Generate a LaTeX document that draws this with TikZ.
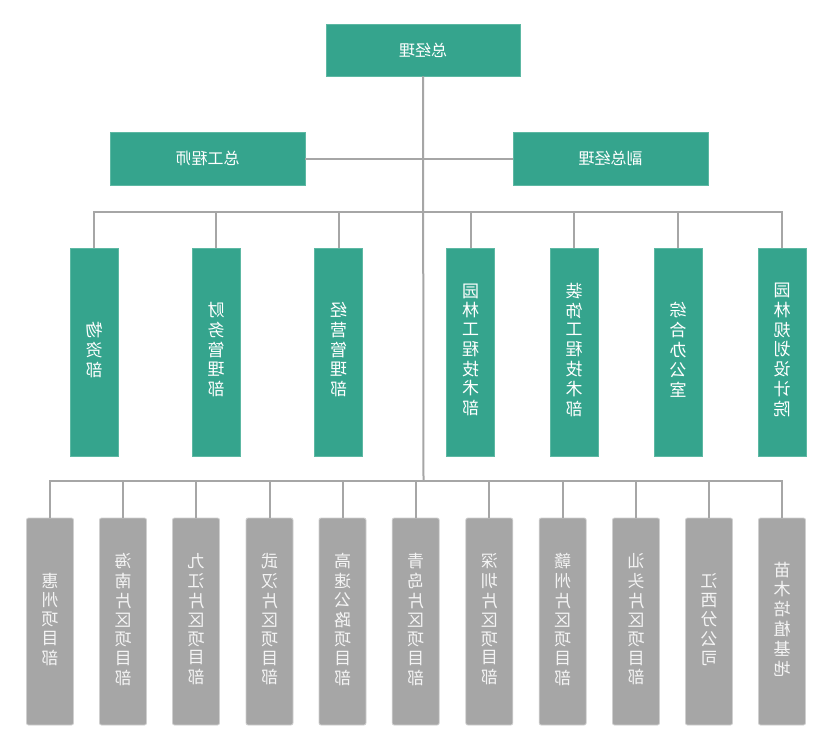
\documentclass[tikz,border=0pt]{standalone}
\usepackage{fontspec}
\usepackage{graphicx}
\setmainfont{Noto Sans CJK SC}
\newcommand\mirv[1]{\reflectbox{\begin{tabular}{@{}c@{}}#1\end{tabular}}}
\newcommand\mirh[1]{\reflectbox{#1}}
\definecolor{tgreen}{HTML}{35A48D}
\definecolor{tgreenb}{HTML}{5DB8A3}
\definecolor{pgray}{HTML}{A6A6A6}
\definecolor{pgrayb}{HTML}{CFCFCF}
\definecolor{ptext}{HTML}{F4F4F4}
\definecolor{lgray}{HTML}{A6A6A6}
\begin{document}
\begin{tikzpicture}[x=1pt,y=-1pt,
  topbox/.style={fill=tgreen, draw=tgreenb, line width=0.6pt, minimum width=194pt, minimum height=52pt, inner sep=0pt, text=white, font=\fontsize{16}{18}\selectfont},
  gbox/.style={fill=tgreen, draw=tgreenb, line width=0.6pt, minimum width=48pt, minimum height=208pt, inner sep=0pt, text=white, font=\fontsize{17}{18.6}\selectfont},
  pbox/.style={fill=pgray, draw=pgrayb, line width=0.8pt, rounded corners=2pt, minimum width=47pt, minimum height=207pt, inner sep=0pt, text=ptext, font=\fontsize{17}{18.6}\selectfont},
  conn/.style={draw=lgray, line width=2pt}]
\useasboundingbox (0,0) rectangle (832,750);
\fill[white] (0,0) rectangle (832,750);

% top level
\node[topbox] (gm) at (423,50) {\mirh{总经理}};
\node[topbox, minimum width=195pt, minimum height=53pt] (ce) at (207.5,158.5) {\mirh{总工程师}};
\node[topbox, minimum width=195pt, minimum height=53pt] (vgm) at (610.5,158.5) {\mirh{副总经理}};

% departments
\node[gbox] (g1) at (94,352) {\mirv{物\\资\\部}};
\node[gbox] (g2) at (216,352) {\mirv{财\\务\\管\\理\\部}};
\node[gbox] (g3) at (338.5,352) {\mirv{经\\营\\管\\理\\部}};
\node[gbox] (g4) at (470.5,352) {\mirv{园\\林\\工\\程\\技\\术\\部}};
\node[gbox] (g5) at (574,352) {\mirv{装\\饰\\工\\程\\技\\术\\部}};
\node[gbox] (g6) at (678,352) {\mirv{综\\合\\办\\公\\室}};
\node[gbox] (g7) at (782,352) {\mirv{园\\林\\规\\划\\设\\计\\院}};

% projects
\node[pbox] (p1) at (50,621.5) {\mirv{惠\\州\\项\\目\\部}};
\node[pbox] (p2) at (123,621.5) {\mirv{海\\南\\片\\区\\项\\目\\部}};
\node[pbox] (p3) at (196,621.5) {\mirv{九\\江\\片\\区\\项\\目\\部}};
\node[pbox] (p4) at (269.5,621.5) {\mirv{武\\汉\\片\\区\\项\\目\\部}};
\node[pbox] (p5) at (342.5,621.5) {\mirv{高\\速\\公\\路\\项\\目\\部}};
\node[pbox] (p6) at (415.7,621.5) {\mirv{青\\岛\\片\\区\\项\\目\\部}};
\node[pbox] (p7) at (489.3,621.5) {\mirv{深\\圳\\片\\区\\项\\目\\部}};
\node[pbox] (p8) at (562.7,621.5) {\mirv{赣\\州\\片\\区\\项\\目\\部}};
\node[pbox] (p9) at (636,621.5) {\mirv{汕\\头\\片\\区\\项\\目\\部}};
\node[pbox] (p10) at (709,621.5) {\mirv{江\\西\\分\\公\\司}};
\node[pbox] (p11) at (782,621.5) {\mirv{苗\\木\\培\\植\\基\\地}};

% connectors
\coordinate (b1) at (423.5,212);
\coordinate (b2) at (423.5,481);
\draw[conn] (gm.south) -- (b2);
\draw[conn] (ce.east) -- (vgm.west);
\draw[conn] (g1.north) |- (b1) -| (g7.north);
\foreach \i in {2,...,6} \draw[conn] (g\i.north) -- (g\i.north |- b1);
\draw[conn] (p1.north) |- (b2) -| (p11.north);
\foreach \i in {2,...,10} \draw[conn] (p\i.north) -- (p\i.north |- b2);
\end{tikzpicture}
\end{document}
